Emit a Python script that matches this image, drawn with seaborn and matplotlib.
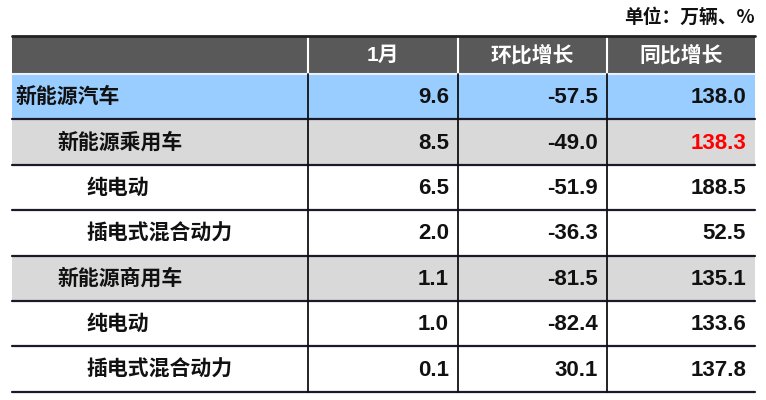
import matplotlib
matplotlib.use("Agg")
import matplotlib.pyplot as plt
import seaborn as sns
import numpy as np

sns.set_theme(style="white")
plt.rcParams['font.family'] = ['Liberation Sans', 'Noto Sans CJK SC', 'DejaVu Sans']

# ---- data ----
headers = ["", "1月", "环比增长", "同比增长"]
categories = ["新能源汽车", "新能源乘用车", "纯电动", "插电式混合动力",
              "新能源商用车", "纯电动", "插电式混合动力"]
levels = [0, 1, 2, 2, 1, 2, 2]
jan = ["9.6", "8.5", "6.5", "2.0", "1.1", "1.0", "0.1"]
mom = ["-57.5", "-49.0", "-51.9", "-36.3", "-81.5", "-82.4", "30.1"]
yoy = ["138.0", "138.3", "188.5", "52.5", "135.1", "133.6", "137.8"]
unit_label = "单位：万辆、%"

# ---- styling ----
row_fill = ["#99CCFF", "#D9D9D9", "#FFFFFF", "#FFFFFF", "#D9D9D9", "#FFFFFF", "#FFFFFF"]
header_fill = "#595959"
col_edges = [12, 308, 458, 607, 755]
header_top, header_bot = 36, 74
row_h = 45.4
indent = {0: 16, 1: 57, 2: 87}
red_cells = {(1, 3)}

fig = plt.figure(figsize=(7.66, 4.0), dpi=100)
ax = fig.add_axes([0, 0, 1, 1])
ax.set_xlim(0, 766)
ax.set_ylim(400, 0)
ax.axis("off")

cjk = ['Noto Sans CJK SC', 'DejaVu Sans']
num_font = ['Liberation Sans', 'DejaVu Sans']

# header
ax.fill_between([col_edges[0], col_edges[-1]], header_top, header_bot, color=header_fill, lw=0)
for j, h in enumerate(headers):
    if h:
        cx = (col_edges[j] + col_edges[j + 1]) / 2
        ax.text(cx, (header_top + header_bot) / 2, h, ha="center", va="center",
                color="white", fontsize=15, fontweight="bold", family=['Liberation Sans', 'Noto Sans CJK SC'])
for x in col_edges[1:-1]:
    ax.plot([x, x], [header_top, header_bot], color="white", lw=1.5)
ax.plot([col_edges[0], col_edges[-1]], [header_top, header_top], color="#222222", lw=2)

# body
cols = [jan, mom, yoy]
for i, cat in enumerate(categories):
    y0 = header_bot + i * row_h
    y1 = y0 + row_h
    yc = (y0 + y1) / 2
    ax.fill_between([col_edges[0], col_edges[-1]], y0, y1, color=row_fill[i], lw=0)
    ax.text(indent[levels[i]], yc, cat, ha="left", va="center", fontsize=15,
            fontweight="bold", family=cjk, color="#111111")
    for j, col in enumerate(cols):
        color = "#FF0000" if (i, j + 1) in red_cells else "#111111"
        ax.text(col_edges[j + 2] - 9, yc + 1, col[i], ha="right", va="center",
                fontsize=16, fontweight="bold", family=num_font, color=color)
    line_col = "#E8F2FF" if i == 0 else "#1a1a2a"
    ax.plot([col_edges[0], col_edges[-1]], [y0, y0], color=line_col, lw=1.6 if i else 1.5)
body_bot = header_bot + len(categories) * row_h
ax.plot([col_edges[0], col_edges[-1]], [body_bot, body_bot], color="#1a1a2a", lw=1.6)
for x in col_edges[1:-1]:
    ax.plot([x, x], [header_bot, body_bot], color="#111111", lw=1.3)

ax.text(col_edges[-1], 17, unit_label, ha="right", va="center", fontsize=13.5,
        fontweight="bold", family=cjk, color="#111111")

fig.savefig("out.png", dpi=100)
